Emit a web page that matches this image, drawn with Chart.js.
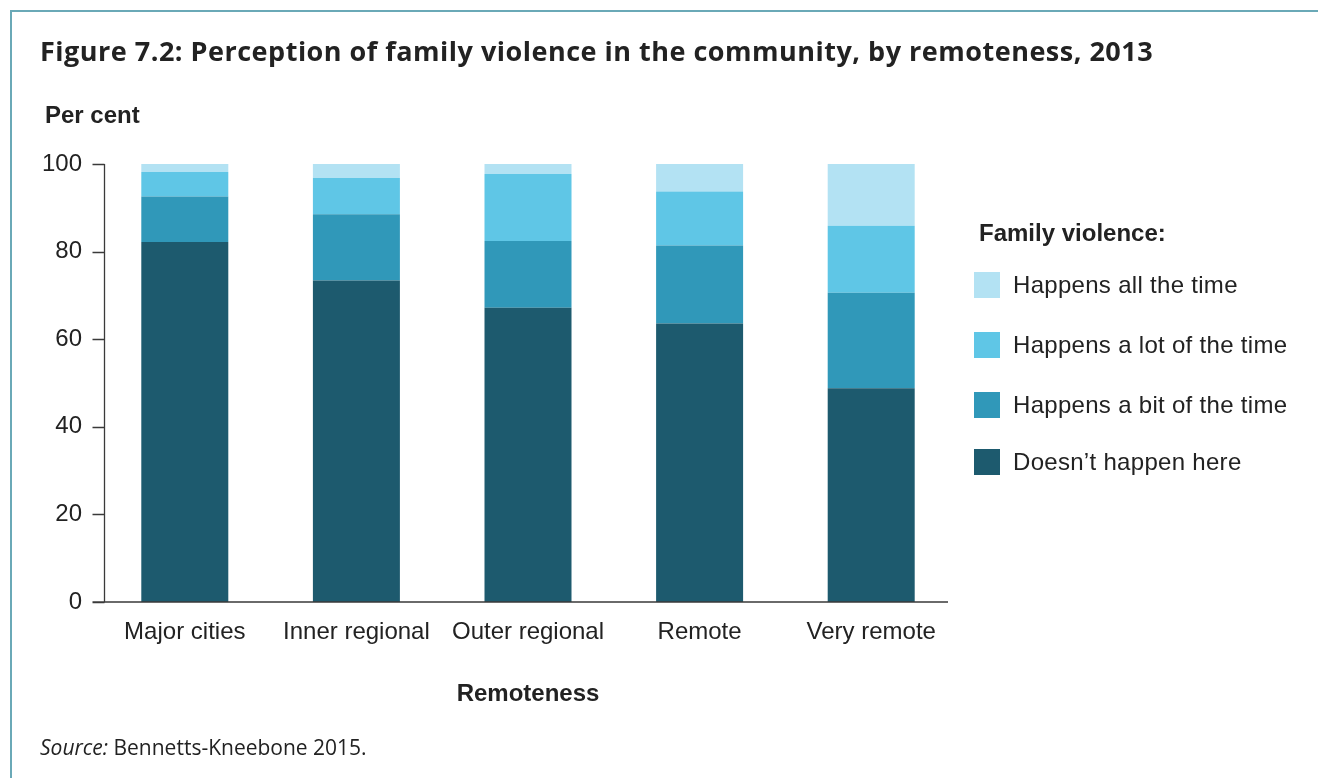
<!DOCTYPE html>
<html>
<head>
<meta charset="utf-8">
<script src="https://cdn.jsdelivr.net/npm/chart.js@4.4.1/dist/chart.umd.min.js"></script>
<style>
    body { margin: 0; background: #fff; }
    #wrap { position: relative; width: 1318px; height: 778px; overflow: hidden; background: #fff; }
    #frame { position: absolute; left: 10px; top: 10px; width: 1320px; height: 780px;
             border-top: 2px solid #6aa9b7; border-left: 2px solid #6aa9b7; }
    #chart { position: absolute; left: 0; top: 0; }
    .txt { position: absolute; white-space: nowrap; color: #222; line-height: 30px; }
    #title { left: 40px; top: 32px; font: bold 27px "Open Sans", sans-serif; letter-spacing: 0.5px; }
    #ytitle { left: 45px; top: 101px; font: bold 24px "Liberation Sans", Arial, sans-serif; }
    #source { left: 40px; top: 733px; font: 21px "Open Sans", sans-serif; }
    #legend { position: absolute; left: 974px; top: 218px; font: 24px "Liberation Sans", Arial, sans-serif; color: #222; }
    #legend .head { position: absolute; left: 5px; top: 0; font-weight: bold; white-space: nowrap; line-height: 30px; }
    #legend .item { position: absolute; left: 0; height: 30px; white-space: nowrap; line-height: 30px; }
    #legend .box { position: absolute; left: 0; top: 2px; width: 26px; height: 26px; }
    #legend .lab { position: absolute; left: 39px; top: 0; letter-spacing: 0.3px; }
</style>
</head>
<body>
<div id="wrap">
    <div id="frame"></div>
    <canvas id="chart" width="1318" height="778"></canvas>
    <div class="txt" id="title">Figure 7.2: Perception of family violence in the community, by remoteness, 2013</div>
    <div class="txt" id="ytitle">Per cent</div>
    <div id="legend"></div>
    <div class="txt" id="source"><i>Source:</i> Bennetts-Kneebone 2015.</div>
</div>
<script>
// categories
const regions = ['Major cities', 'Inner regional', 'Outer regional', 'Remote', 'Very remote'];

// per cent of respondents, stacked bottom to top
const doesntHappen = [82.2, 73.4, 67.2, 63.6, 48.8];
const bitOfTime = [10.4, 15.1, 15.2, 17.8, 21.8];
const lotOfTime = [5.6, 8.3, 15.3, 12.3, 15.3];
const allTheTime = [1.8, 3.2, 2.3, 6.3, 14.1];

const seriesNames = ['Doesn\u2019t happen here', 'Happens a bit of the time', 'Happens a lot of the time', 'Happens all the time'];
const seriesColors = ['#1d5a6e', '#3098b9', '#5fc6e6', '#b3e2f3'];
const yTicks = [0, 20, 40, 60, 80, 100];

const textColor = '#222';
const chartFont = '"Liberation Sans", Arial, sans-serif';

// axis lines sit a little right of the plot area edge, like the original
const axisLines = {
    id: 'axisLines',
    afterDatasetsDraw(chart) {
        const { ctx, chartArea } = chart;
        const y = chart.scales.y;
        const ax = chartArea.left + 5.5;
        const y0 = y.getPixelForValue(0);
        ctx.save();
        ctx.strokeStyle = '#3a3a3a';
        ctx.lineWidth = 1.3;
        ctx.beginPath();
        ctx.moveTo(ax, y.getPixelForValue(100));
        ctx.lineTo(ax, y0);
        yTicks.forEach(v => {
            const py = Math.round(y.getPixelForValue(v)) + 0.5;
            ctx.moveTo(ax - 12, py);
            ctx.lineTo(ax, py);
        });
        ctx.moveTo(ax - 12, y0);
        ctx.lineTo(chartArea.right - 9, y0);
        ctx.stroke();
        ctx.restore();
    }
};

const datasets = [doesntHappen, bitOfTime, lotOfTime, allTheTime].map((vals, i) => ({
    label: seriesNames[i],
    data: vals,
    backgroundColor: seriesColors[i],
    borderWidth: 0,
    barPercentage: 0.507,
    categoryPercentage: 1.0,
}));

new Chart(document.getElementById('chart'), {
    type: 'bar',
    data: { labels: regions, datasets },
    options: {
        responsive: false,
        animation: false,
        events: [],
        layout: { padding: { left: 0, top: 164, right: 361, bottom: 66 } },
        plugins: {
            legend: { display: false },
            tooltip: { enabled: false },
        },
        scales: {
            x: {
                stacked: true,
                grid: { display: false },
                border: { display: false },
                ticks: { color: textColor, font: { family: chartFont, size: 24 }, padding: 8 },
                title: {
                    display: true,
                    text: 'Remoteness',
                    color: textColor,
                    font: { family: chartFont, size: 24, weight: 'bold' },
                    padding: { top: 0, bottom: 3 },
                },
                afterFit: s => { s.height = 110; },
            },
            y: {
                stacked: true,
                min: 0,
                max: 100,
                grid: { display: false },
                border: { display: false },
                ticks: {
                    stepSize: 20,
                    color: textColor,
                    font: { family: chartFont, size: 24 },
                    padding: 9,
                },
                afterFit: s => { s.width = 99; },
            },
        },
    },
    plugins: [axisLines],
});

// legend, top entry first
const legend = document.getElementById('legend');
legend.innerHTML = '<div class="head">Family violence:</div>';
const itemTops = [52, 112, 172, 229];
seriesNames.slice().reverse().forEach((name, i) => {
    const color = seriesColors[seriesColors.length - 1 - i];
    const item = document.createElement('div');
    item.className = 'item';
    item.style.top = itemTops[i] + 'px';
    item.innerHTML = `<div class="box" style="background:${color}"></div><div class="lab">${name}</div>`;
    legend.appendChild(item);
});
</script>
</body>
</html>
